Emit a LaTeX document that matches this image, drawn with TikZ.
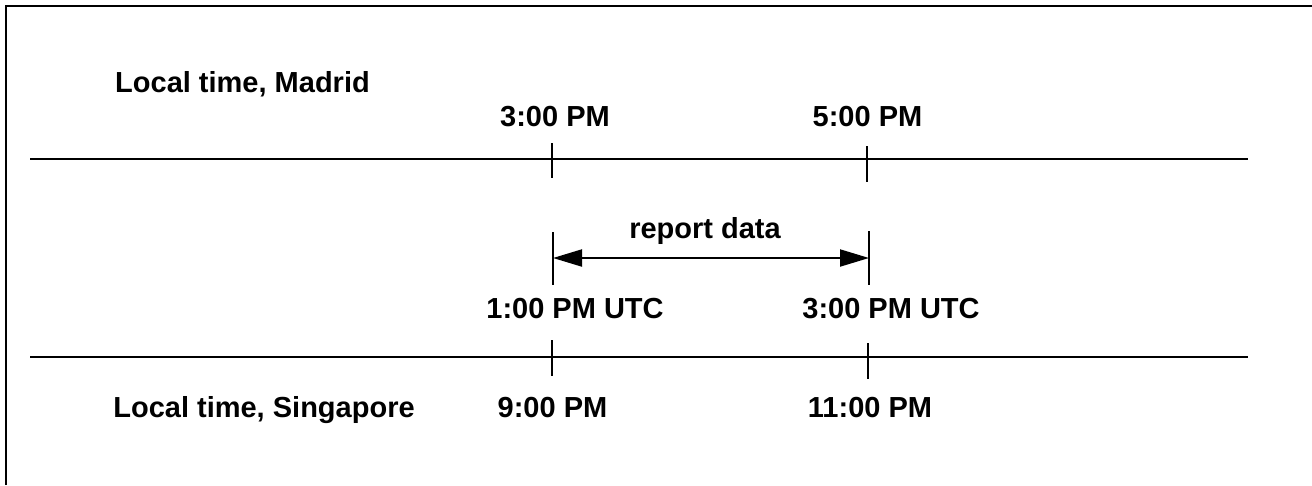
\documentclass[tikz,border=0pt]{standalone}
\usepackage{fontspec}
\setmainfont{Liberation Sans}
\usepackage{tikz}
\usetikzlibrary{arrows.meta}

\begin{document}
\begin{tikzpicture}[
  x=1pt, y=-1pt,
  line/.style={line width=2pt},
  lbl/.style={font=\fontsize{29}{34}\selectfont\bfseries, anchor=base, inner sep=0pt},
  arr/.style={{Triangle[length=29pt,width=17pt]}-{Triangle[length=29pt,width=17pt]}, line width=2pt}
]
  \useasboundingbox (0,0) rectangle (1312,485);
  % frame (only top and left edges show)
  \coordinate (fBL) at (6,485);
  \coordinate (fTL) at (6,6);
  \coordinate (fTR) at (1312,6);
  \draw[line] (fBL) -- (fTL) -- (fTR);

  % Madrid time line
  \coordinate (mL) at (30,159);
  \coordinate (mR) at (1248,159);
  \coordinate (m1t) at (552,143);
  \coordinate (m1b) at (552,178);
  \coordinate (m2t) at (867,146);
  \coordinate (m2b) at (867,182);
  \draw[line] (mL) -- (mR);
  \draw[line] (m1t) -- (m1b);
  \draw[line] (m2t) -- (m2b);
  \node[lbl] (madrid) at (242.5,92) {Local time, Madrid};
  \node[lbl] (m3pm) at (555,126) {3:00 PM};
  \node[lbl] (m5pm) at (867.5,126) {5:00 PM};

  % report window
  \coordinate (b1t) at (553,232);
  \coordinate (b1b) at (553,285);
  \coordinate (b2t) at (869,231);
  \coordinate (b2b) at (869,285);
  \coordinate (a1) at (553,258);
  \coordinate (a2) at (869,258);
  \draw[line] (b1t) -- (b1b);
  \draw[line] (b2t) -- (b2b);
  \draw[arr] (a1) -- (a2);
  \node[lbl] (report) at (705,238) {report data};
  \node[lbl] (utc1) at (575,318) {1:00 PM UTC};
  \node[lbl] (utc3) at (891,318) {3:00 PM UTC};

  % Singapore time line
  \coordinate (sL) at (30,357);
  \coordinate (sR) at (1248,357);
  \coordinate (s1t) at (552,340);
  \coordinate (s1b) at (552,376);
  \coordinate (s2t) at (868,343);
  \coordinate (s2b) at (868,379);
  \draw[line] (sL) -- (sR);
  \draw[line] (s1t) -- (s1b);
  \draw[line] (s2t) -- (s2b);
  \node[lbl] (singapore) at (264,417) {Local time, Singapore};
  \node[lbl] (s9pm) at (552.5,417) {9:00 PM};
  \node[lbl] (s11pm) at (870,417) {11:00 PM};
\end{tikzpicture}
\end{document}
